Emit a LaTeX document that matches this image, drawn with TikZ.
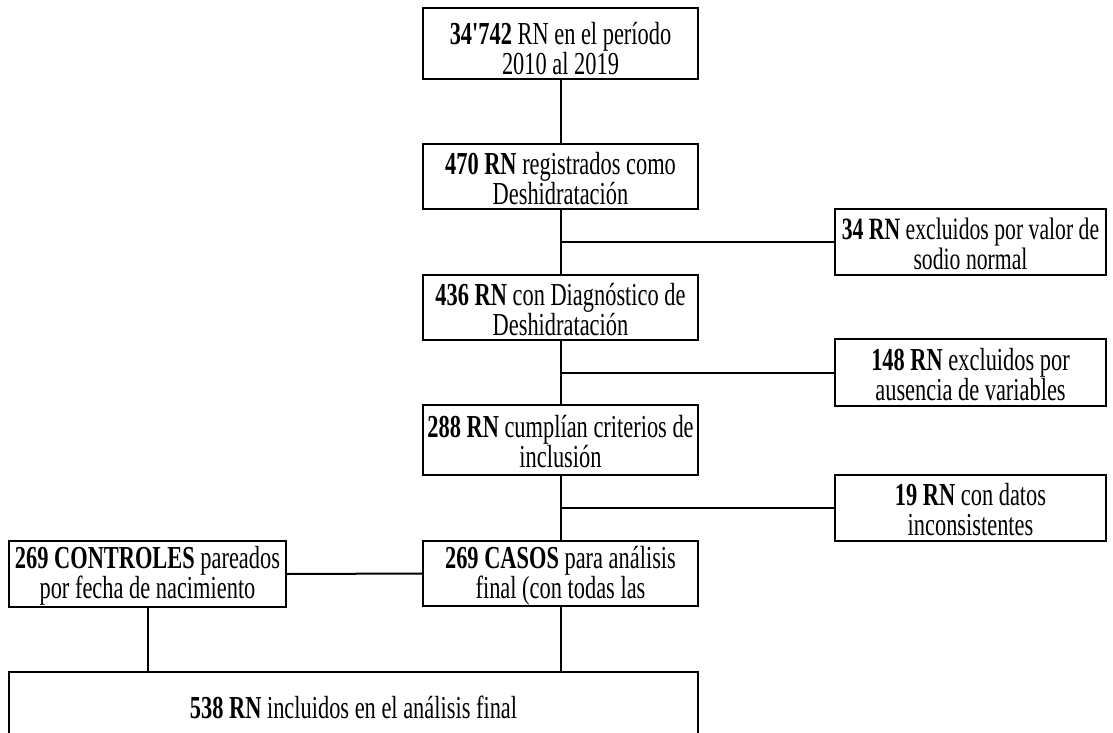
\documentclass[tikz,border=0pt]{standalone}
\usepackage{fontspec}
\setmainfont{Liberation Serif}[FakeStretch=0.70]
\newfontfamily\plainserif{Liberation Serif}[FakeStretch=0.70]
\begin{document}
\begin{tikzpicture}[x=1pt,y=-1pt,
  box/.style={draw, line width=2pt, inner sep=0pt},
  txt/.style={align=center, inner sep=0pt, yshift=-2pt,
    font=\fontsize{32}{30}\selectfont},
  conn/.style={line width=2pt}]
\clip (0,0) rectangle (1113,733);
\fill[white] (0,0) rectangle (1113,733);
% main column
\node[box, minimum width=275, minimum height=71] (n1) at (560.5,43.5) {};
\node[txt, yshift=-3pt] (n1t) at (n1) {{\plainserif\bfseries 34'742} RN en el período\\2010 al 2019};
\node[box, minimum width=275, minimum height=65] (n2) at (560.5,176.5) {};
\node[txt] (n2t) at (n2) {\textbf{470 RN} registrados como\\Deshidratación};
\node[box, minimum width=275, minimum height=65] (n3) at (560.5,307.5) {};
\node[txt] (n3t) at (n3) {\textbf{436 RN} con Diagnóstico de\\Deshidratación};
\node[box, minimum width=275, minimum height=70] (n4) at (560.5,440) {};
\node[txt] (n4t) at (n4) {\textbf{288 RN} cumplían criterios de\\inclusión};
\node[box, minimum width=275, minimum height=65] (n5) at (560.5,573.5) {};
\node[txt] (n5t) at (n5) {\textbf{269 CASOS} para análisis\\final (con todas las};
% exclusions
\node[box, minimum width=271, minimum height=66] (r1) at (970.5,242) {};
\node[txt, font=\fontsize{31}{30}\selectfont] (r1t) at (r1) {\textbf{34 RN} excluidos por valor de\\sodio normal};
\node[box, minimum width=271, minimum height=67] (r2) at (970.5,372.5) {};
\node[txt] (r2t) at (r2) {\textbf{148 RN} excluidos por\\ausencia de variables};
\node[box, minimum width=271, minimum height=66] (r3) at (970.5,508) {};
\node[txt] (r3t) at (r3) {\textbf{19 RN} con datos\\inconsistentes};
% controls and final
\node[box, minimum width=277, minimum height=66] (c1) at (147.5,574) {};
\node[txt] (c1t) at (c1) {\textbf{269 CONTROLES} pareados\\por fecha de nacimiento};
\node[box, minimum width=689, minimum height=70] (f1) at (353.5,707) {};
\node[txt, yshift=2pt] (f1t) at (f1) {\textbf{538 RN} incluidos en el análisis final};
% connectors
\draw[conn] (n1.south) -- (n2.north);
\draw[conn] (n2.south) -- (n3.north);
\draw[conn] (n3.south) -- (n4.north);
\draw[conn] (n4.south) -- (n5.north);
\draw[conn] (r1.west) -- (r1.west -| n2.south);
\draw[conn] (r2.west) -- (r2.west -| n3.south);
\draw[conn] (r3.west) -- (r3.west -| n4.south);
\draw[conn] (n5.west) -- (c1.east);
\draw[conn] (c1.south) -- (c1.south |- f1.north);
\draw[conn] (n5.south) -- (n5.south |- f1.north);
\end{tikzpicture}
\end{document}
